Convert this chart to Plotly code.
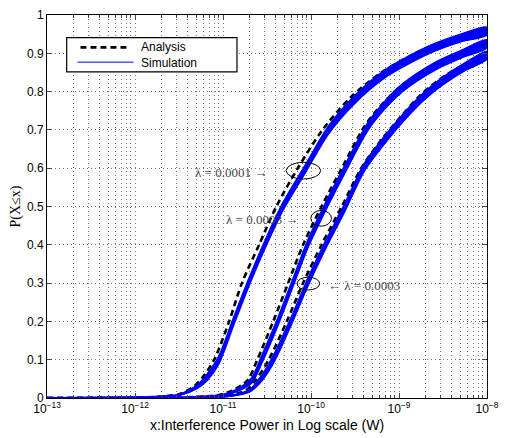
import plotly.graph_objects as go

# ---- data ----
# curve for lambda = 0.0001 (left)
x_ana_A = [1e-13, 1e-12, 2e-12, 3.16e-12, 4.68e-12, 5.9e-12, 7.94e-12, 1.175e-11, 1.64e-11,
           2.57e-11, 4.04e-11, 7.08e-11, 1.35e-10, 2.82e-10, 6.31e-10, 1.26e-9, 2.34e-9,
           5.01e-9, 1e-8]
p_ana_A = [0, 0.001, 0.004, 0.01, 0.03, 0.055, 0.1, 0.2, 0.3,
           0.4, 0.5, 0.6, 0.7, 0.785, 0.85, 0.89, 0.92,
           0.945, 0.963]
x_sim_A = [1e-13, 1e-12, 2e-12, 3.16e-12, 5.13e-12, 6.65e-12, 9.0e-12, 1.32e-11, 1.95e-11,
           2.99e-11, 4.80e-11, 8.71e-11, 1.585e-10, 3.16e-10, 6.87e-10, 1.35e-9, 2.51e-9,
           5.01e-9, 1e-8]
p_sim_A = [0, 0.002, 0.004, 0.008, 0.03, 0.055, 0.1, 0.2, 0.3,
           0.4, 0.5, 0.6, 0.7, 0.78, 0.846, 0.885, 0.915,
           0.94, 0.958]

# middle curve
x_ana_B = [1e-13, 3.16e-12, 8.91e-12, 1.29e-11, 1.9e-11, 2.455e-11, 3.72e-11, 5.5e-11,
           8.13e-11, 1.318e-10, 2.24e-10, 4.07e-10, 6.31e-10, 1.023e-9, 2.34e-9, 4.79e-9, 1e-8]
p_ana_B = [0, 0.001, 0.008, 0.02, 0.046, 0.1, 0.2, 0.3,
           0.4, 0.5, 0.6, 0.71, 0.765, 0.812, 0.867, 0.899, 0.928]
x_sim_B = [1e-13, 3.16e-12, 1e-11, 1.445e-11, 2.12e-11, 2.75e-11, 4.22e-11, 6.21e-11,
           9.12e-11, 1.466e-10, 2.455e-10, 4.47e-10, 6.92e-10, 1.096e-9, 2.51e-9, 5.01e-9, 1e-8]
p_sim_B = [0, 0.001, 0.008, 0.02, 0.046, 0.1, 0.2, 0.3,
           0.4, 0.5, 0.6, 0.71, 0.765, 0.81, 0.865, 0.897, 0.925]

# right curve
x_ana_C = [1e-13, 5.62e-12, 1.122e-11, 1.82e-11, 2.34e-11, 3.31e-11, 5.31e-11, 8.13e-11,
           1.318e-10, 2.24e-10, 3.72e-10, 6.46e-10, 1.07e-9, 1.74e-9, 2.95e-9, 5.37e-9, 1e-8]
p_ana_C = [0, 0.001, 0.006, 0.02, 0.046, 0.1, 0.2, 0.3,
           0.4, 0.5, 0.6, 0.677, 0.737, 0.79, 0.833, 0.87, 0.9]
x_sim_C = [1e-13, 6.31e-12, 1.26e-11, 2.04e-11, 2.63e-11, 3.72e-11, 5.94e-11, 9.12e-11,
           1.466e-10, 2.455e-10, 3.98e-10, 6.92e-10, 1.148e-9, 1.86e-9, 3.16e-9, 5.62e-9, 1e-8]
p_sim_C = [0, 0.001, 0.006, 0.02, 0.046, 0.1, 0.2, 0.3,
           0.4, 0.5, 0.6, 0.675, 0.735, 0.785, 0.828, 0.865, 0.895]

x_tickvals = [1e-13, 1e-12, 1e-11, 1e-10, 1e-9, 1e-8]
x_ticktext = ["10<sup>\u221213</sup>", "10<sup>\u221212</sup>", "10<sup>\u221211</sup>",
              "10<sup>\u221210</sup>", "10<sup>\u22129</sup>", "10<sup>\u22128</sup>"]
y_tickvals = [0, 0.1, 0.2, 0.3, 0.4, 0.5, 0.6, 0.7, 0.8, 0.9, 1]
y_ticktext = ["0", "0.1", "0.2", "0.3", "0.4", "0.5", "0.6", "0.7", "0.8", "0.9", "1"]

labels = ["\u03bb = 0.0001 \u2192", "\u03bb = 0.0003 \u2192", "\u2190 \u03bb = 0.0003"]
legend_names = ["Analysis", "Simulation"]

# ---- style ----
BLUE = "#0000ff"
HALF = 0.010  # half thickness of the simulation band, probability units
SPL = dict(shape="spline", smoothing=0.8)

fig = go.Figure()

for xs, ps in [(x_ana_A, p_ana_A), (x_ana_B, p_ana_B), (x_ana_C, p_ana_C)]:
    fig.add_trace(go.Scatter(
        x=xs, y=ps, mode="lines", showlegend=False, name=legend_names[0],
        line=dict(color="black", width=2.6, dash="6px,4px", **SPL),
    ))

for xs, ps in [(x_sim_A, p_sim_A), (x_sim_B, p_sim_B), (x_sim_C, p_sim_C)]:
    hi = [v + min(HALF, v * 0.15) for v in ps]
    lo = [v - min(HALF, v * 0.15) for v in ps]
    fig.add_trace(go.Scatter(
        x=xs + xs[::-1], y=hi + lo[::-1], mode="lines", fill="toself",
        fillcolor=BLUE, showlegend=False, hoverinfo="skip", name=legend_names[1],
        line=dict(color=BLUE, width=1.6, **SPL),
    ))
    fig.add_trace(go.Scatter(
        x=xs, y=ps, mode="lines", showlegend=False, name=legend_names[1],
        line=dict(color=BLUE, width=2, **SPL),
    ))

L, R, T, B = 47, 13, 8, 40
W, H = 507, 438
pw, ph = W - L - R, H - T - B


def px(xp):
    return (xp - L) / pw


def py(yp):
    return (H - B - yp) / ph


# ellipses around the curves
ell = [(290, 325, 158, 175), (315, 336, 207, 223), (301, 324, 275, 288)]
for (x0, x1, y0, y1) in ell:
    fig.add_shape(type="circle", xref="paper", yref="paper",
                  x0=px(x0), x1=px(x1), y0=py(y1), y1=py(y0),
                  line=dict(color="black", width=1))

ann_font = dict(family="Liberation Serif", size=13, color="#444444")
fig.add_annotation(x=px(273), y=py(168), xref="paper", yref="paper", text=labels[0],
                   showarrow=False, xanchor="right", yanchor="middle", font=ann_font)
fig.add_annotation(x=px(304), y=py(216), xref="paper", yref="paper", text=labels[1],
                   showarrow=False, xanchor="right", yanchor="middle", font=ann_font)
fig.add_annotation(x=px(330), y=py(283), xref="paper", yref="paper", text=labels[2],
                   showarrow=False, xanchor="left", yanchor="middle", font=ann_font)

# legend box (drawn like the MATLAB legend)
fig.add_shape(type="rect", xref="paper", yref="paper",
              x0=px(67), x1=px(240), y0=py(66), y1=py(31),
              line=dict(color="black", width=1.2), fillcolor="white", layer="above")
fig.add_shape(type="line", xref="paper", yref="paper",
              x0=px(81), x1=px(131), y0=py(41), y1=py(41),
              line=dict(color="black", width=2.6, dash="6px,4px"), layer="above")
fig.add_shape(type="line", xref="paper", yref="paper",
              x0=px(78), x1=px(135), y0=py(56), y1=py(56),
              line=dict(color=BLUE, width=1), layer="above")
leg_font = dict(family="Liberation Sans", size=12, color="black")
fig.add_annotation(x=px(140), y=py(41), xref="paper", yref="paper", text=legend_names[0],
                   showarrow=False, xanchor="left", yanchor="middle", font=leg_font)
fig.add_annotation(x=px(140), y=py(57), xref="paper", yref="paper", text=legend_names[1],
                   showarrow=False, xanchor="left", yanchor="middle", font=leg_font)

grid = dict(gridcolor="#777777", griddash="1px,3px", gridwidth=1)

fig.update_layout(
    width=W, height=H,
    margin=dict(l=L, r=R, t=T, b=B),
    paper_bgcolor="white", plot_bgcolor="white",
    font=dict(family="Liberation Sans", size=12, color="black"),
    showlegend=False,
    xaxis=dict(type="log", range=[-13, -8], tickvals=x_tickvals, ticktext=x_ticktext,
               ticks="inside", ticklen=5, showline=True, linecolor="black", linewidth=1,
               mirror="ticks", showgrid=True, zeroline=False, **grid,
               minor=dict(dtick="D1", ticks="inside", ticklen=3, showgrid=True, **grid),
               title=dict(text="x:Interference Power in Log scale (W)", standoff=4,
                          font=dict(size=14)),
               tickfont=dict(size=12)),
    yaxis=dict(range=[0, 1], tickvals=y_tickvals, ticktext=y_ticktext,
               ticks="inside", ticklen=5, showline=True, linecolor="black", linewidth=1,
               mirror="ticks", showgrid=True, zeroline=False, **grid,
               title=dict(text="P(X\u2264x)", standoff=3,
                          font=dict(family="Liberation Serif", size=14)),
               tickfont=dict(size=12)),
)

fig.write_html("out.html", config={"displayModeBar": False},
               post_script="document.body.style.margin='0';")
